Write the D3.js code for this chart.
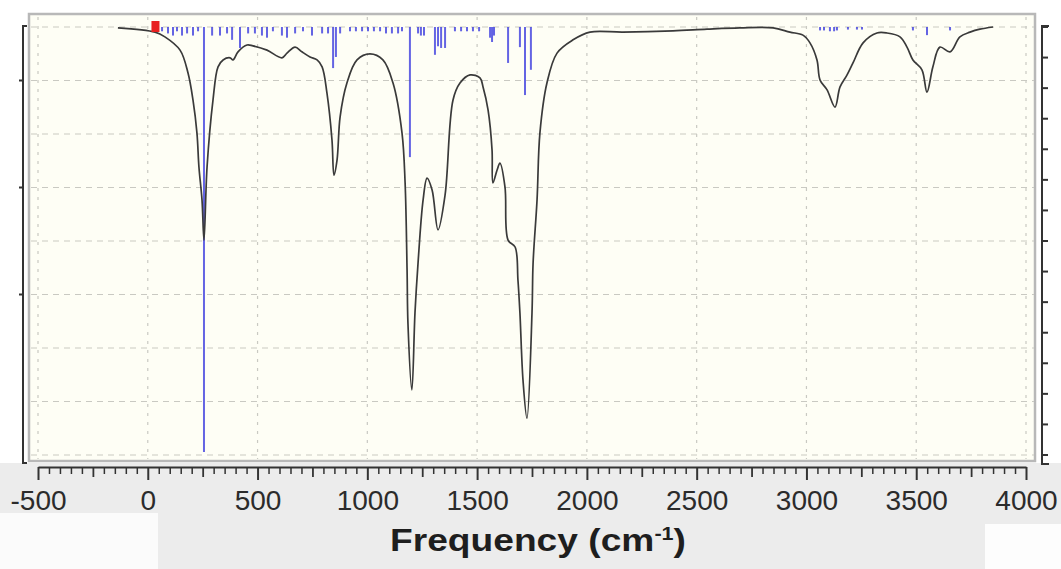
<!DOCTYPE html>
<html>
<head>
<meta charset="utf-8">
<script src="https://cdn.jsdelivr.net/npm/d3@7"></script>
<style>
body { margin: 0; background: #fff; }
</style>
</head>
<body>
<div id="chart"></div>
<script>
// broadened spectrum: frequency (cm-1) and transmittance (%)
const specFreq = [-136, 33, 78, 147, 183, 206, 224, 233, 247, 256, 270, 297, 320, 343, 375, 388, 411, 452, 479, 543,
  611, 634, 671, 702, 739, 771, 794, 816, 839, 848, 862, 876, 907, 953, 1012, 1071, 1117, 1158, 1172, 1181,
  1185, 1203, 1217, 1231, 1254, 1272, 1295, 1322, 1354, 1390, 1422, 1468, 1513, 1527, 1550, 1568, 1572, 1591, 1604, 1627,
  1641, 1673, 1686, 1695, 1709, 1727, 1750, 1755, 1773, 1786, 1818, 1864, 1937, 2014, 2164, 2392, 2547, 2697, 2848, 2925,
  2984, 3016, 3048, 3062, 3094, 3130, 3153, 3185, 3212, 3258, 3321, 3367, 3426, 3458, 3485, 3526, 3549, 3576, 3608, 3654,
  3699, 3745, 3790, 3850];
const specT = [99.8, 98.8, 97.7, 94.6, 89.3, 82.9, 75.2, 67.3, 59.6, 50.2, 67.3, 82.9, 90.7, 92.3, 92.8, 92.3, 94.2, 95.8, 95.6, 94.6,
  92.8, 93.9, 95.3, 94.2, 93.0, 92.3, 90.7, 84.6, 73.6, 65.4, 68.9, 79.0, 86.9, 92.3, 93.7, 92.3, 86.9, 75.2, 63.6, 43.2,
  30.8, 15.2, 33.2, 44.9, 59.6, 64.7, 61.9, 52.6, 60.7, 82.9, 86.9, 88.8, 88.1, 86.0, 80.6, 71.3, 63.6, 66.6, 68.2, 62.6,
  50.2, 48.6, 40.9, 33.2, 17.5, 8.6, 33.2, 44.9, 59.6, 75.2, 86.9, 93.9, 97.0, 98.8, 98.8, 99.1, 99.5, 99.8, 99.8, 98.8,
  98.1, 96.3, 92.3, 87.6, 85.3, 81.3, 86.0, 88.8, 91.6, 96.3, 98.6, 98.6, 97.7, 95.3, 92.3, 90.0, 84.8, 90.7, 95.3, 94.2,
  97.7, 98.8, 99.5, 100];

// computed modes: frequency (cm-1) and relative intensity
const stickFreq = [65, 92, 115, 133, 156, 179, 206, 229, 256, 293, 329, 361, 384, 420, 457, 488, 520, 543, 570, 611,
  634, 671, 707, 748, 794, 821, 844, 857, 876, 921, 948, 976, 1003, 1030, 1058, 1085, 1112, 1140, 1158, 1194,
  1231, 1244, 1258, 1308, 1322, 1336, 1354, 1399, 1427, 1454, 1481, 1509, 1559, 1568, 1577, 1641, 1695, 1718, 1745,
  3062, 3080, 3107, 3126, 3139, 3189, 3230, 3253, 3485, 3549, 3654];
const stickInt = [1, 1.5, 2, 1, 2, 1.5, 2, 1, 99.3, 2, 2, 1.5, 3, 4.9, 1.5, 1.5, 2, 2.5, 1, 2,
  2.5, 1.5, 1, 2, 1.5, 1.5, 9.6, 7, 1.5, 1, 1, 1, 1, 1, 1, 1.5, 1.5, 1.5, 1, 30.4,
  1.5, 2, 2, 6.5, 4.5, 4.9, 4.9, 1, 1, 1, 1, 1, 2.5, 3.5, 2, 8.4, 4.7, 15.9, 10.0,
  0.8, 0.8, 1, 1, 0.8, 0.6, 0.6, 0.6, 0.8, 1.9, 0.8];

// selected mode marker
const markerFreq = [35];

const xTicks = [-500, 0, 500, 1000, 1500, 2000, 2500, 3000, 3500, 4000];
const gridT = [0, 12.5, 25, 37.5, 50, 62.5, 75, 87.5, 100];
const leftTicks = [87.5, 62.5, 37.5];
const rightTicks = d3.range(0, 15).map(i => i * 100 / 14);

function draw_chart(id) {
    const W = 1061, H = 569;
    const svg = d3.select("#" + id).append("svg")
        .attr("width", W)
        .attr("height", H)
        .style("display", "block");

    // шкалы
    const x = d3.scaleLinear().domain([-500, 4000]).range([38, 1026]);
    const yT = d3.scaleLinear().domain([0, 100]).range([455, 27]);
    const yI = d3.scaleLinear().domain([0, 100]).range([27, 455]);

    // grey band under the plot
    svg.append("rect").attr("x", 0).attr("y", 463).attr("width", W).attr("height", H - 463).attr("fill", "#ececec");
    svg.append("rect").attr("x", 0).attr("y", 513).attr("width", 158).attr("height", H - 513).attr("fill", "#fbfbfb");
    svg.append("rect").attr("x", 985).attr("y", 524).attr("width", W - 985).attr("height", H - 524).attr("fill", "#fdfdfd");

    // plot frame
    svg.append("rect")
        .attr("x", 29).attr("y", 14)
        .attr("width", 1006).attr("height", 447)
        .attr("fill", "#fefef5")
        .attr("stroke", "#b8b8b8")
        .attr("stroke-width", 2.5);

    // grid
    svg.append("g").selectAll("line")
        .data(gridT)
        .enter().append("line")
        .attr("x1", 31).attr("x2", 1034)
        .attr("y1", d => yT(d)).attr("y2", d => yT(d))
        .attr("stroke", "#c9c9c2")
        .attr("stroke-width", 1.2)
        .attr("stroke-dasharray", "6,5");
    svg.append("g").selectAll("line")
        .data(xTicks)
        .enter().append("line")
        .attr("x1", d => x(d)).attr("x2", d => x(d))
        .attr("y1", 17).attr("y2", 459)
        .attr("stroke", "#c9c9c2")
        .attr("stroke-width", 1.2)
        .attr("stroke-dasharray", "3,6");

    // sticks
    svg.append("g").selectAll("line")
        .data(stickFreq)
        .enter().append("line")
        .attr("x1", d => x(d)).attr("x2", d => x(d))
        .attr("y1", yI(0))
        .attr("y2", (d, i) => yI(stickInt[i]))
        .attr("stroke", "#3d3dde")
        .attr("stroke-opacity", 0.8)
        .attr("stroke-width", 2);

    // spectrum line
    const pts = specFreq.map((f, i) => [f, specT[i]]);
    const line = d3.line()
        .x(d => x(d[0]))
        .y(d => yT(d[1]))
        .curve(d3.curveCatmullRom.alpha(0.5));
    svg.append("path")
        .datum(pts)
        .attr("d", line)
        .attr("fill", "none")
        .attr("stroke", "#3a3a3a")
        .attr("stroke-width", 1.7);

    // red marker
    svg.append("g").selectAll("rect")
        .data(markerFreq)
        .enter().append("rect")
        .attr("x", d => x(d) - 4)
        .attr("y", yI(0) - 6)
        .attr("width", 8)
        .attr("height", 11)
        .attr("fill", "#e82020");

    // bottom axis
    const axisY = 467;
    const minor = d3.range(-500, 4001, 50).filter(d => d % 250 !== 0);
    const mid = d3.range(-250, 4000, 500);
    svg.append("g")
        .attr("transform", `translate(0,${axisY})`)
        .call(d3.axisBottom(x).tickValues(minor).tickSize(7).tickSizeOuter(0).tickFormat(""))
        .call(g => g.select(".domain").remove())
        .call(g => g.selectAll("line").attr("stroke", "#333").attr("stroke-width", 1.5));
    svg.append("g")
        .attr("transform", `translate(0,${axisY})`)
        .call(d3.axisBottom(x).tickValues(mid).tickSize(10).tickSizeOuter(0).tickFormat(""))
        .call(g => g.select(".domain").remove())
        .call(g => g.selectAll("line").attr("stroke", "#333").attr("stroke-width", 1.8));
    const xAxis = d3.axisBottom(x)
        .tickValues(xTicks)
        .tickSize(13)
        .tickSizeOuter(0)
        .tickPadding(10)
        .tickFormat(d => String(d));
    svg.append("g")
        .attr("transform", `translate(0,${axisY})`)
        .call(xAxis)
        .call(g => g.select(".domain").attr("stroke", "#333").attr("stroke-width", 2))
        .call(g => g.selectAll("line").attr("stroke", "#333").attr("stroke-width", 2))
        .call(g => g.selectAll("text")
            .attr("fill", "#2b2b2b")
            .style("font-family", "'Liberation Sans', Arial, sans-serif")
            .style("font-size", "28px"));

    // left bracket axis
    const lg = svg.append("g").attr("stroke", "#333").attr("stroke-width", 2).attr("fill", "none");
    lg.append("path").attr("d", `M27,${yT(100) - 1}H23V${yT(0) + 8}H27`);
    lg.selectAll("line.t")
        .data(leftTicks)
        .enter().append("line")
        .attr("x1", 19).attr("x2", 23)
        .attr("y1", d => yT(d)).attr("y2", d => yT(d));

    // right bracket axis
    const rg = svg.append("g").attr("stroke", "#333").attr("stroke-width", 2).attr("fill", "none");
    rg.append("path").attr("d", `M1049,${yI(0) - 1}H1042V${yI(100) + 9}H1049`);
    rg.selectAll("line.t")
        .data(rightTicks)
        .enter().append("line")
        .attr("x1", 1042).attr("x2", 1048)
        .attr("y1", d => yI(d)).attr("y2", d => yI(d));

    // подпись оси X
    const title = svg.append("text")
        .attr("x", 0).attr("y", 0)
        .attr("fill", "#1e1e1e")
        .style("font-family", "'Liberation Sans', Arial, sans-serif")
        .style("font-weight", "bold")
        .style("font-size", "31px");
    title.append("tspan").text("Frequency (cm");
    title.append("tspan").attr("dy", -11).style("font-size", "18px").text("-1");
    title.append("tspan").attr("dy", 11).text(")");
    const bb = title.node().getBBox();
    const sx = 296 / bb.width;
    title.attr("transform", `translate(390,551) scale(${sx},1)`);
}

draw_chart("chart");
</script>
</body>
</html>
